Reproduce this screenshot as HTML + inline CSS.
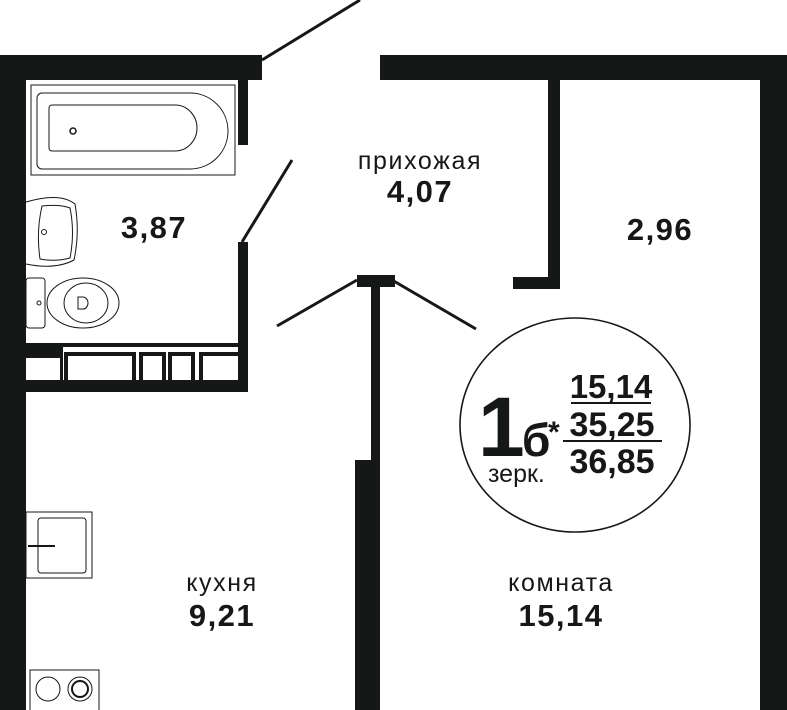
<!DOCTYPE html>
<html><head><meta charset="utf-8"><style>
html,body{margin:0;padding:0;background:#fff;}
svg{display:block;}
text{font-family:"Liberation Sans",sans-serif;fill:#161818;}
.b{font-weight:bold;}
.l{font-size:25px;letter-spacing:1.6px;}
.n{font-size:31px;font-weight:bold;letter-spacing:1.5px;}
</style></head><body>
<svg width="787" height="710" viewBox="0 0 787 710" xmlns="http://www.w3.org/2000/svg">
<g fill="#161818">
<rect x="0" y="55" width="262" height="25"/>
<rect x="0" y="55" width="26" height="655"/>
<rect x="380" y="55" width="407" height="25"/>
<rect x="760" y="55" width="27" height="655"/>
<rect x="548" y="80" width="12" height="209"/>
<rect x="513" y="277" width="47" height="12"/>
<rect x="238" y="80" width="10" height="65"/>
<rect x="238" y="242" width="10" height="150"/>
<rect x="26" y="380" width="222" height="12"/>
<rect x="26" y="343" width="34" height="15"/>
<rect x="60" y="343" width="178" height="4"/>
<rect x="60" y="347" width="3" height="33"/>
<rect x="64" y="352" width="4" height="28"/>
<rect x="64" y="352" width="72" height="4"/>
<rect x="132" y="352" width="4" height="28"/>
<rect x="139" y="352" width="4" height="28"/>
<rect x="139" y="352" width="27" height="4"/>
<rect x="162" y="352" width="4" height="28"/>
<rect x="168" y="352" width="4" height="28"/>
<rect x="168" y="352" width="27" height="4"/>
<rect x="191" y="352" width="4" height="28"/>
<rect x="199" y="352" width="4" height="28"/>
<rect x="199" y="352" width="39" height="4"/>
<rect x="357" y="275" width="38" height="12"/>
<rect x="371" y="287" width="9" height="175"/>
<rect x="355" y="460" width="25" height="250"/>
</g>
<g stroke="#161818" fill="none">
<line x1="262" y1="60" x2="360" y2="0" stroke-width="3"/>
<line x1="242" y1="242" x2="292" y2="160" stroke-width="3"/>
<line x1="357" y1="280" x2="277" y2="326" stroke-width="3"/>
<line x1="392" y1="280" x2="476" y2="329" stroke-width="3"/>
<ellipse cx="575" cy="425" rx="115" ry="107" stroke-width="1.6"/>
<rect x="31" y="85" width="204" height="90" stroke-width="1"/>
<path d="M42 93 H190 A38 38 0 0 1 190 169 H42 A5 5 0 0 1 37 164 V98 A5 5 0 0 1 42 93Z" stroke-width="1"/>
<path d="M52 105 H175 A22 23 0 0 1 175 151 H52 A3 3 0 0 1 49 148 V108 A3 3 0 0 1 52 105Z" stroke-width="1"/>
<circle cx="73" cy="131" r="3" stroke-width="1.5"/>
<path d="M26 202 Q60 192 75 204 Q80 232 74 260 Q55 270 26 264" stroke-width="1"/>
<path d="M42 206 Q60 204 70 208 Q75 232 70 258 Q55 262 40 259 Q36 232 42 206Z" stroke-width="1"/>
<circle cx="44" cy="232" r="2.5" stroke-width="1"/>
<rect x="26" y="278" width="19" height="50" rx="3" stroke-width="1"/>
<circle cx="39" cy="303" r="2" stroke-width="1"/>
<ellipse cx="83" cy="303" rx="36" ry="25" stroke-width="1"/>
<ellipse cx="86" cy="303" rx="22" ry="20" stroke-width="1"/>
<path d="M78 297 h5 a5 6 0 0 1 0 12 h-5z" stroke-width="1"/>
<rect x="26" y="512" width="66" height="66" stroke-width="1"/>
<rect x="38" y="518" width="48" height="55" rx="3" stroke-width="1"/>
<line x1="28" y1="546" x2="55" y2="546" stroke-width="2"/>
<rect x="30" y="670" width="69" height="45" stroke-width="1"/>
<circle cx="48" cy="689" r="12" stroke-width="1"/>
<circle cx="80" cy="689" r="12" stroke-width="1"/>
<circle cx="80" cy="689" r="8" stroke-width="2"/>
</g>
<g text-anchor="middle">
<text x="420" y="169" class="l">прихожая</text>
<text x="420" y="202" class="n">4,07</text>
<text x="154" y="238" class="n">3,87</text>
<text x="660" y="240" class="n">2,96</text>
<text x="222" y="591" class="l">кухня</text>
<text x="222" y="626" class="n">9,21</text>
<text x="561" y="591" class="l">комната</text>
<text x="561" y="626" class="n">15,14</text>
</g>
<text x="478" y="456" font-size="84" class="b" letter-spacing="-6">1</text>
<text x="522" y="456" font-size="46" class="b">б</text>
<text x="548" y="442" font-size="30" class="b">*</text>
<text x="488" y="482" font-size="25">зерк.</text>
<text x="611" y="398" font-size="33" class="b" text-anchor="middle">15,14</text>
<rect x="571" y="402" width="80" height="2" fill="#161818"/>
<text x="612" y="436" font-size="34" class="b" text-anchor="middle">35,25</text>
<rect x="563" y="440" width="99" height="2" fill="#161818"/>
<text x="612" y="473" font-size="34" class="b" text-anchor="middle">36,85</text>
</svg>
</body></html>
